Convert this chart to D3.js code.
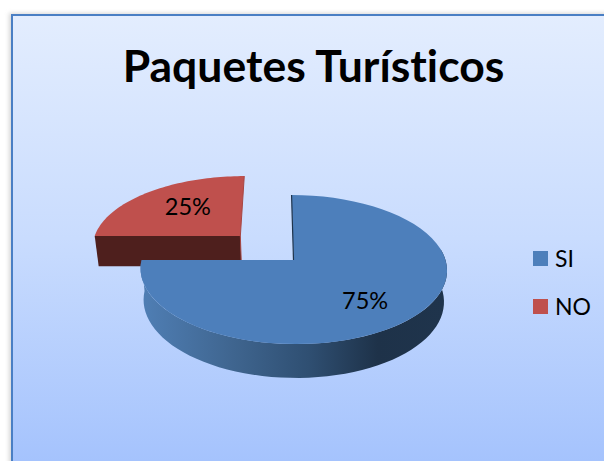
<!DOCTYPE html>
<html><head><meta charset="utf-8">
<script src="https://cdn.jsdelivr.net/npm/d3@7"></script>
<style>html,body{margin:0;padding:0;background:#fff}svg{display:block}text{font-family:Lato,"Open Sans",sans-serif;fill:#000;font-variant-ligatures:none}</style>
</head><body><svg id="c" width="604" height="461"></svg>
<script>
const title = "Paquetes Turísticos";
const categories = ["SI", "NO"];
const values = [75, 25];
const labels = ["75%", "25%"];
const topColors = ["#4d7fbb", "#bf504d"];

const svg = d3.select("#c");
const defs = svg.append("defs");
const bg = defs.append("linearGradient").attr("id","bg").attr("gradientUnits","userSpaceOnUse").attr("x1",0).attr("x2",0).attr("y1",15).attr("y2",461);
[[0,"#e3edfe"],[.5,"#c9dcfe"],[1,"#a5c3fd"]].forEach(s=>bg.append("stop").attr("offset",s[0]).attr("stop-color",s[1]));
const wall = defs.append("linearGradient").attr("id","wall").attr("gradientUnits","userSpaceOnUse").attr("x1",143).attr("x2",444).attr("y1",0).attr("y2",0);
[[0,"#4f7eb4"],[.3,"#3f658f"],[.55,"#2f4f72"],[.78,"#1e3249"],[1,"#1f344c"]].forEach(s=>wall.append("stop").attr("offset",s[0]).attr("stop-color",s[1]));
const blur = defs.append("filter").attr("id","sh").attr("x","-5%").attr("y","-5%").attr("width","110%").attr("height","110%");
blur.append("feGaussianBlur").attr("stdDeviation",2);

// frame
svg.append("rect").attr("x",9).attr("y",13).attr("width",640).attr("height",500).attr("fill","#bbb").attr("opacity",.6).attr("filter","url(#sh)");
svg.append("rect").attr("x",12).attr("y",15).attr("width",640).attr("height",500).attr("fill","url(#bg)").attr("stroke","#4a7fc4").attr("stroke-width",2);

svg.append("text").attr("x",313.5).attr("y",82).attr("text-anchor","middle")
  .attr("font-size",44.5).attr("font-weight",700).text(title);

// perspective projection of the tilted disc
const cx=293.5, cy=260, Rx=152, Ry=73.3, P=.128, D=31, shear=.03;
function project(u,v,z){
  const s=1/(1+P*v), k=1-.02*z;
  const x0=u*s*k*Rx, y0=-v*s*k*Ry;
  return [cx+x0+shear*y0, cy+y0+D*z*s];
}
const arcs = d3.pie().sort(null).startAngle(0).endAngle(2*Math.PI)(values);
const explode=[[0,0],[-.36,.341]];
const line=d3.line();
function rim(a,i,z,a0,a1){
  const [ox,oy]=explode[i];
  return d3.range(0,61).map(t=>{const ang=(a0??a.startAngle)+((a1??a.endAngle)-(a0??a.startAngle))*t/60;
    return project(ox+Math.sin(ang),oy+Math.cos(ang),z);});
}
function apex(i,z){return project(explode[i][0],explode[i][1],z);}
const g=svg.append("g");

// NO slice (behind)
const no=arcs[1];
const noLeft=project(explode[1][0]+Math.sin(no.startAngle),explode[1][1]+Math.cos(no.startAngle),0);
const noLeftB=project(explode[1][0]+Math.sin(no.startAngle),explode[1][1]+Math.cos(no.startAngle),1);
g.append("path").attr("d",line([apex(1,0),noLeft,noLeftB,apex(1,1)])+"Z").attr("fill","#4e1f1d");
g.append("path").attr("d",line([apex(1,0),...rim(no,1,0)])+"Z").attr("fill",topColors[1]);
g.append("path").attr("d",line([apex(1,0),rim(no,1,0)[60]])).attr("stroke","#a84643").attr("stroke-width",1).attr("fill","none");
g.append("path").attr("d",line([apex(1,0),apex(1,1)])).attr("stroke","#a84643").attr("stroke-width",1).attr("fill","none");

// SI slice: outer wall then top
const si=arcs[0];
const wallTop=rim(si,0,0,Math.PI/2-.15,si.endAngle), wallBot=rim(si,0,1,Math.PI/2-.15,si.endAngle);
g.append("path").attr("d",line([...wallTop,...wallBot.reverse()])+"Z").attr("fill","url(#wall)");
g.append("path").attr("d",line([apex(0,0),...rim(si,0,0)])+"Z").attr("fill",topColors[0]);
g.append("path").attr("d",line([apex(0,0),rim(si,0,0)[0]])).attr("stroke","#1f344c").attr("stroke-width",1.2).attr("fill","none");

// data labels
const labelPos=[{r:.62,dy:7},{r:.55,dy:-4}];
arcs.forEach((a,i)=>{
  const m=(a.startAngle+a.endAngle)/2, r=labelPos[i].r;
  const p=project(explode[i][0]+r*Math.sin(m),explode[i][1]+r*Math.cos(m),0);
  svg.append("text").attr("x",p[0]).attr("y",p[1]+labelPos[i].dy+8).attr("text-anchor","middle").attr("font-size",23.5).text(labels[i]);
});

// legend
const ly=d3.scalePoint().domain(categories).range([258.5,306.5]);
categories.forEach((c,i)=>{
  svg.append("rect").attr("x",533).attr("y",ly(c)-7.5).attr("width",15).attr("height",15).attr("fill",topColors[i]);
  svg.append("text").attr("x",555).attr("y",ly(c)+8).attr("font-size",23).text(c);
});
</script></body></html>
